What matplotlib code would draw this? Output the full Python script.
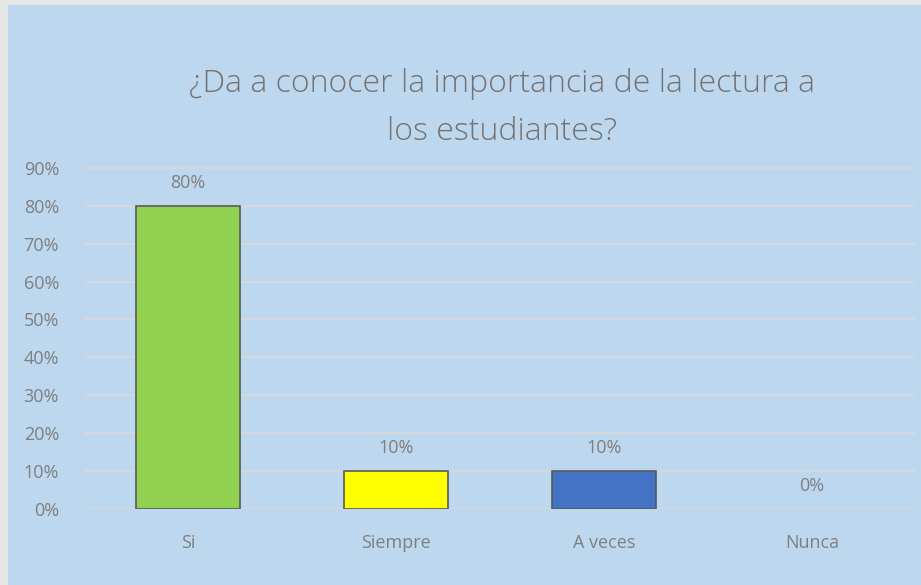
import matplotlib.pyplot as plt
from matplotlib.patches import Rectangle
from matplotlib.ticker import PercentFormatter

categorias = ["Si", "Siempre", "A veces", "Nunca"]
valores = [80, 10, 10, 0]
colores = ["#92D050", "#FFFF00", "#4472C4", "#4472C4"]
titulo = "¿Da a conocer la importancia de la lectura a\nlos estudiantes?"

plt.rcParams["font.family"] = ["Open Sans", "DejaVu Sans"]

gris = "#7F7F7F"
fondo = "#BDD7EE"

fig = plt.figure(figsize=(9.21, 5.85), dpi=100)
fig.patch.set_facecolor("#E6E6E6")
fig.patches.append(Rectangle((8 / 921, 0), 1, 1 - 5 / 585, transform=fig.transFigure,
                             facecolor=fondo, edgecolor="none", zorder=-5))

ax = fig.add_axes([84 / 921, 76 / 585, 832 / 921, 342 / 585])
ax.set_facecolor("none")
ax.set_zorder(2)

x = range(len(categorias))
barras = ax.bar(x, valores, width=0.5, color=colores, edgecolor="#595959", linewidth=1.2, zorder=3)
barras[3].set_linewidth(0)

for xi, v in zip(x, valores):
    ax.text(xi, v + 6, f"{v}%", ha="center", va="center", fontsize=13, color=gris)

ax.set_xlim(-0.5, 3.5)
ax.set_ylim(0, 90.2)
ax.set_yticks(range(0, 91, 10))
ax.yaxis.set_major_formatter(PercentFormatter(decimals=0))
ax.set_xticks(list(x))
ax.set_xticklabels(categorias)
ax.tick_params(axis="both", length=0, labelsize=13, labelcolor=gris)
ax.tick_params(axis="x", pad=18)
ax.tick_params(axis="y", pad=18)
ax.grid(axis="y", color="#D9D9D9", linewidth=1.2, zorder=0)
for s in ax.spines.values():
    s.set_visible(False)
ax.axhline(0, color="#D9D9D9", linewidth=1.2, zorder=1)

fig.text(0.545, 1 - 108 / 585, titulo, ha="center", va="center", fontsize=23,
         color="#767171", linespacing=1.65, fontweight="light", zorder=5)

fig.savefig("out.png", dpi=100, facecolor=fig.get_facecolor())
